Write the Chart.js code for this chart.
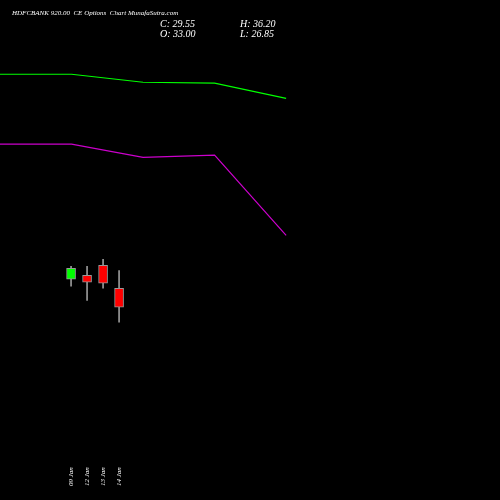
<!DOCTYPE html><html><head><script src="https://cdn.jsdelivr.net/npm/chart.js@4"></script>
<style>body{margin:0;background:#000}#w{width:500px;height:500px}</style></head><body><div id="w"><canvas id="c"></canvas></div>
<script>
const dates=["09 Jan","12 Jan","13 Jan","14 Jan"];
const opens=[34.64,35.36,37.18,33.00];
const closes=[36.64,34.09,33.90,29.55];
const highs=[37.0,37.0,38.27,36.20];
const lows=[33.36,30.8,33.0,26.85];
const upperBand=[71.9,71.9,70.45,70.27,67.5];
const lowerBand=[59.2,59.2,56.8,57.2,42.6];
const cols=opens.map((o,i)=>closes[i]>=o?'#00ff00':'#ff0000');
const labelsPlugin={id:'lbl',afterDraw(ch){const c=ch.ctx,x=ch.scales.x;c.save();c.fillStyle='#fff';c.font='italic 7px "Liberation Serif"';
c.fillText('HDFCBANK 920.00  CE Options  Chart MunafaSutra.com',12,15);
c.font='italic 10px "Liberation Serif"';c.fillText('C: 29.55',160,27);c.fillText('O: 33.00',160,37);c.fillText('H: 36.20',240,27);c.fillText('L: 26.85',240,37);
c.font='italic 7px "Liberation Serif"';dates.forEach((d,i)=>{c.save();c.translate(x.getPixelForValue(i)+2,486);c.rotate(-Math.PI/2);c.textAlign='left';c.fillText(d,0,0);c.restore();});c.restore();}};
new Chart(document.getElementById('c'),{data:{datasets:[
{type:'line',data:upperBand.map((v,i)=>({x:i,y:v})),xAxisID:'x2',borderColor:'#00ff00',borderWidth:1.2,pointRadius:0},
{type:'line',data:lowerBand.map((v,i)=>({x:i,y:v})),xAxisID:'x2',borderColor:'#cc00cc',borderWidth:1.2,pointRadius:0},
{type:'bar',data:opens.map((o,i)=>({x:i,y:[o,closes[i]]})),backgroundColor:cols,borderColor:'#999',borderWidth:1,borderSkipped:false,barThickness:9,grouped:false},
{type:'bar',data:lows.map((l,i)=>({x:i,y:[l,highs[i]]})),backgroundColor:'#999',barThickness:1,grouped:false}
]},options:{responsive:true,maintainAspectRatio:false,animation:false,layout:{padding:0},plugins:{legend:{display:false},tooltip:{enabled:false}},
scales:{x:{type:'linear',offset:false,min:-4.44,max:26.8,display:false},x2:{type:'linear',offset:false,min:0,max:6.99,display:false},y:{min:-5.5,max:85.4,display:false}}},plugins:[labelsPlugin]});
</script></body></html>
